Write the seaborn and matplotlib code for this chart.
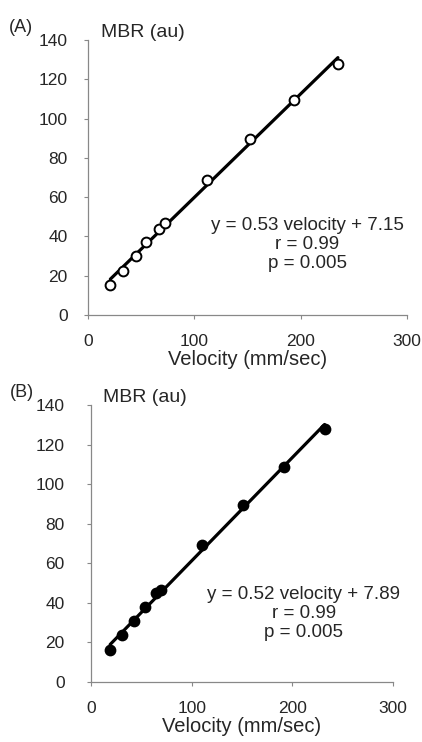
import matplotlib
matplotlib.use("Agg")
import matplotlib.pyplot as plt
import seaborn as sns
import pandas as pd

# --- data ---
velocity_a = [21, 33, 45, 55, 67, 72, 112, 152, 194, 235]
mbr_a = [15.5, 22.5, 30, 37, 44, 47, 68.5, 89.5, 109.5, 128]
velocity_b = [19, 31, 43, 54, 65, 70, 110, 151, 192, 232]
mbr_b = [16, 23.5, 31, 38, 45, 46.5, 69, 89.5, 108.5, 128]

panel_labels = ["(A)", "(B)"]
fit_texts = [
    "y = 0.53 velocity + 7.15\nr = 0.99\np = 0.005",
    "y = 0.52 velocity + 7.89\nr = 0.99\np = 0.005",
]
x_ticks = [0, 100, 200, 300]
y_ticks = [0, 20, 40, 60, 80, 100, 120, 140]

sns.set_style("ticks")
plt.rcParams["font.family"] = ["Liberation Sans", "DejaVu Sans"]

df_a = pd.DataFrame({"velocity": velocity_a, "mbr": mbr_a})
df_b = pd.DataFrame({"velocity": velocity_b, "mbr": mbr_b})

fig = plt.figure(figsize=(4.22, 7.42), dpi=100)
ax_a = fig.add_axes([0.2085, 0.5755, 0.756, 0.3705])
ax_b = fig.add_axes([0.2156, 0.0809, 0.7157, 0.3733])

# axes, data, marker face, y label pad, fit text position, panel label x
panels = [
    (ax_a, df_a, "white", 11.5, (0.688, 0.255), -0.21),
    (ax_b, df_b, "black", 16, (0.705, 0.247), -0.23),
]

for i, (ax, df, face, ypad, txt_pos, lab_x) in enumerate(panels):
    sns.regplot(data=df, x="velocity", y="mbr", ax=ax, ci=None,
                scatter_kws={"s": 50, "facecolors": face, "edgecolors": "black",
                             "linewidths": 1.4, "alpha": 1, "zorder": 3},
                line_kws={"color": "black", "lw": 2.3, "zorder": 2})
    ax.set_xlim(0, 300)
    ax.set_ylim(0, 140)
    ax.set_xticks(x_ticks)
    ax.set_yticks(y_ticks)
    ax.tick_params(labelsize=12.5, length=3, width=0.8, color="#888888")
    ax.tick_params(axis="y", pad=ypad)
    ax.tick_params(axis="x", pad=10.5)
    for side in ["left", "bottom"]:
        ax.spines[side].set_color("#888888")
        ax.spines[side].set_linewidth(0.9)
    sns.despine(ax=ax)
    ax.set_xlabel("Velocity (mm/sec)", fontsize=14.5, labelpad=1)
    ax.set_ylabel("")
    ax.text(0.04, 0.995, "MBR (au)", transform=ax.transAxes, fontsize=14,
            ha="left", va="bottom")
    ax.text(lab_x, 1.015, panel_labels[i], transform=ax.transAxes, fontsize=13,
            ha="center", va="bottom")
    ax.text(txt_pos[0], txt_pos[1], fit_texts[i], transform=ax.transAxes,
            fontsize=13.5, ha="center", va="center", linespacing=1.15)

plt.savefig("out.png", dpi=100)
